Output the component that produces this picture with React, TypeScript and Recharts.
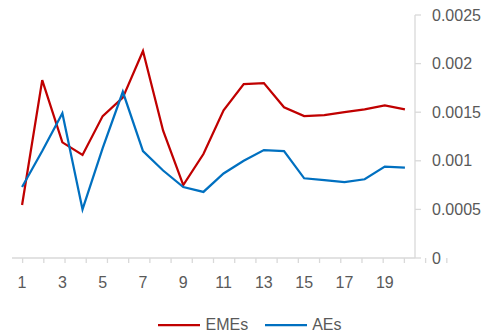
import React from "react";
import { LineChart, Line, XAxis, YAxis, Legend } from "recharts";

const periods = [1, 2, 3, 4, 5, 6, 7, 8, 9, 10, 11, 12, 13, 14, 15, 16, 17, 18, 19, 20];
const emes = [0.000545, 0.00183, 0.00119, 0.00106, 0.00146, 0.00165, 0.00213, 0.00131, 0.00075, 0.00107, 0.00152, 0.00179, 0.0018, 0.00155, 0.00146, 0.00147, 0.0015, 0.00153, 0.00157, 0.00153];
const aes = [0.00073, 0.0011, 0.00149, 0.0005, 0.00113, 0.00171, 0.0011, 0.0009, 0.00073, 0.00068, 0.00087, 0.001, 0.00111, 0.0011, 0.00082, 0.0008, 0.00078, 0.00081, 0.00094, 0.00093];
const xLabelTicks = [1, 3, 5, 7, 9, 11, 13, 15, 17, 19];
const xBoundaryTicks = [0.5, 1.5, 2.5, 3.5, 4.5, 5.5, 6.5, 7.5, 8.5, 9.5, 10.5, 11.5, 12.5, 13.5, 14.5, 15.5, 16.5, 17.5, 18.5, 19.5, 20.5];
const yTicks = [0, 0.0005, 0.001, 0.0015, 0.002, 0.0025];
const legendOrder = ["EMEs", "AEs"];

const data = periods.map((p, i) => ({ x: p, emes: emes[i], aes: aes[i] }));

const FONT = "'Liberation Sans', Arial, sans-serif";
const TEXT = "#595959";
const AXIS = "#d9d9d9";

const LegendContent = (props: any) => {
  const items = [...(props.payload || [])].sort(
    (a: any, b: any) => legendOrder.indexOf(a.value) - legendOrder.indexOf(b.value)
  );
  return (
    <div style={{ display: "flex", justifyContent: "center", alignItems: "center", fontFamily: FONT, fontSize: 16, color: TEXT, height: 21, marginTop: 10 }}>
      {items.map((it: any, i: number) => (
        <div key={i} style={{ display: "flex", alignItems: "center", marginLeft: i ? 17 : 0 }}>
          <svg width={42} height={10} style={{ marginRight: 5 }}>
            <line x1={0} y1={5} x2={42} y2={5} stroke={it.color} strokeWidth={2.25} />
          </svg>
          <span>{it.value}</span>
        </div>
      ))}
    </div>
  );
};

export default function App() {
  return (
    <div style={{ position: "absolute", left: 0, top: 0 }}>
      <LineChart width={488} height={335} data={data} margin={{ top: 15, right: 0, bottom: 0, left: 12 }}>
        <XAxis
          xAxisId="main"
          dataKey="x"
          type="number"
          domain={[0.5, 20.5]}
          ticks={xLabelTicks}
          axisLine={false}
          tickLine={false}
          tickSize={0}
          tickMargin={13}
          height={40}
          tick={{ fill: TEXT, fontSize: 16, fontFamily: FONT }}
          interval={0}
        />
        <XAxis
          xAxisId="grid"
          type="number"
          domain={[0.5, 20.5]}
          ticks={xBoundaryTicks}
          axisLine={{ stroke: AXIS, strokeWidth: 1.3 }}
          tickLine={{ stroke: AXIS, strokeWidth: 1.3 }}
          tickSize={5}
          tickFormatter={() => ""}
          height={6}
          interval={0}
        />
        <YAxis
          orientation="right"
          domain={[0, 0.0025]}
          ticks={yTicks}
          width={73}
          axisLine={{ stroke: AXIS, strokeWidth: 1.3 }}
          tickLine={{ stroke: AXIS, strokeWidth: 1.3 }}
          tickSize={6}
          tickMargin={11}
          tick={{ fill: TEXT, fontSize: 16, fontFamily: FONT }}
          interval={0}
        />
        <Legend verticalAlign="bottom" height={31} content={<LegendContent />} />
        <Line xAxisId="main" type="linear" dataKey="emes" name="EMEs" stroke="#C00000" strokeWidth={2.25} dot={false} isAnimationActive={false} />
        <Line xAxisId="main" type="linear" dataKey="aes" name="AEs" stroke="#0070C0" strokeWidth={2.25} dot={false} isAnimationActive={false} />
      </LineChart>
    </div>
  );
}
